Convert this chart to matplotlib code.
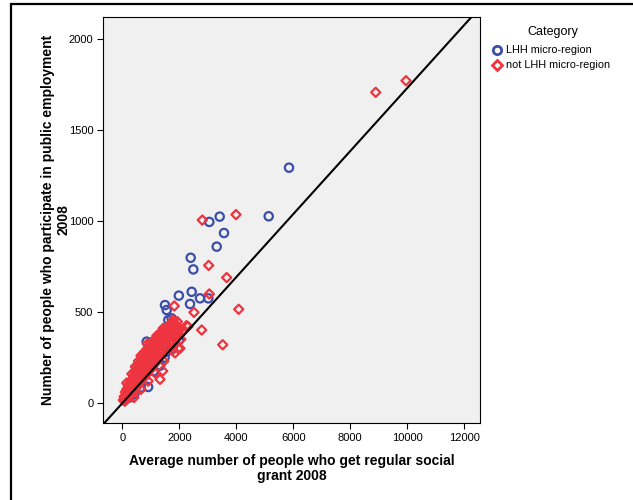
import matplotlib
matplotlib.use("Agg")
import matplotlib.pyplot as plt
from matplotlib.lines import Line2D
from matplotlib.patches import Rectangle

plt.rcParams['font.family'] = ['Liberation Sans', 'DejaVu Sans']

# LHH micro-regions (blue circles): (social grant, public employment)
lhh_pts = [(5850, 1293), (5137, 1026), (3415, 1024), (3050, 995), (3566, 934),
           (3310, 859), (2396, 798), (2489, 734), (1980, 590), (2431, 611),
           (2723, 575), (3015, 575), (2372, 544), (1493, 538), (1553, 511),
           (1610, 456), (1669, 419), (1610, 392), (1903, 364), (1201, 355),
           (850, 337), (1258, 364), (1728, 465), (900, 88), (1552, 282),
           (1100, 175), (1320, 205), (640, 85), (420, 50), (1480, 250),
           (1760, 300), (1980, 345), (250, 30), (1050, 230), (1380, 290)]

# other micro-regions (red diamonds), the scattered ones
other_outer = [(9961, 1771), (8896, 1707), (3988, 1035), (2804, 1005), (3028, 756),
               (3660, 689), (3050, 599), (2512, 498), (4083, 515), (2782, 401),
               (3520, 320), (1820, 533), (1785, 456), (1926, 447), (2020, 405),
               (2020, 300), (1961, 300), (1845, 275), (1412, 176), (1318, 130),
               (871, 324)]

# other micro-regions, the dense group near the origin
other_core = [(30, 15), (60, 35), (85, 10), (100, 60), (125, 28), (150, 75),
              (165, 22), (185, 48), (200, 95), (220, 33), (245, 62), (260, 110),
              (280, 42), (305, 80), (320, 125), (345, 55), (360, 95), (385, 150),
              (400, 65), (420, 110), (445, 170), (465, 78), (480, 130), (505, 190),
              (520, 92), (540, 145), (565, 205), (585, 108), (600, 160), (620, 220),
              (645, 118), (660, 175), (680, 235), (705, 132), (720, 190), (745, 250),
              (760, 140), (780, 205), (805, 265), (820, 155), (845, 220), (860, 280),
              (885, 165), (900, 235), (925, 295), (940, 178), (965, 250), (980, 305),
              (1005, 188), (1020, 262), (1045, 315), (1060, 200), (1085, 275),
              (1100, 330), (1125, 215), (1140, 290), (1165, 340), (1180, 225),
              (1205, 300), (1220, 355), (1245, 240), (1260, 315), (1285, 365),
              (1300, 255), (1325, 330), (1340, 380), (1365, 270), (1380, 340),
              (1405, 390), (1420, 285), (1445, 355), (1460, 400), (1490, 300),
              (1505, 365), (1530, 410), (1555, 315), (1580, 375), (1610, 420),
              (1640, 330), (1665, 385), (1690, 430), (1720, 345), (1750, 395),
              (1790, 440), (1830, 360), (1870, 405), (1910, 425), (1960, 380),
              (330, 160), (560, 230), (770, 280), (990, 330), (1210, 370),
              (1430, 410), (1150, 250), (700, 260), (480, 150),
              (150, 110), (450, 200), (650, 260), (880, 300), (1100, 345),
              (1320, 385), (1580, 420), (1800, 430), (400, 30), (650, 75),
              (900, 120), (1150, 165), (1450, 230), (1750, 290), (2050, 350),
              (2100, 390), (2150, 400), (2250, 425), (2300, 420), (1950, 410),
              (50, 20), (110, 40), (170, 55), (230, 80), (290, 95), (350, 120),
              (410, 135), (470, 160), (530, 175), (590, 195), (650, 210),
              (710, 225), (770, 240), (830, 255), (890, 270), (950, 285),
              (1010, 300), (1070, 310), (1130, 320), (1190, 335), (1250, 345),
              (1310, 355), (1370, 365), (1430, 375), (1490, 385), (1550, 395),
              (1620, 400), (1700, 410), (1780, 415), (1860, 420),
              (250, 70), (370, 100), (490, 115), (610, 140), (730, 160),
              (850, 185), (970, 215), (1090, 240), (1210, 265), (1330, 290),
              (1450, 320), (1570, 345), (1690, 365), (1810, 385), (1930, 395)]

x_ticks = [0, 2000, 4000, 6000, 8000, 10000, 12000]
y_ticks = [0, 500, 1000, 1500, 2000]
ref_slope = 0.173

blue = '#3c4fa8'
red = '#ee343e'

lhh_x, lhh_y = zip(*lhh_pts)
other_x, other_y = zip(*(other_outer + other_core))

fig = plt.figure(figsize=(6.33, 5), dpi=100)
ax = fig.add_axes([0.1627, 0.154, 0.5956, 0.812])
ax.set_facecolor('#f0f0f0')

ax.scatter(lhh_x, lhh_y, s=36, marker='o', facecolors='none',
           edgecolors=blue, linewidths=1.6, zorder=3)
ax.scatter(other_x, other_y, s=22, marker='D', facecolors='none',
           edgecolors=red, linewidths=1.6, zorder=3)

# reference line through the origin
ax.plot([-1000, 13000], [-1000 * ref_slope, 13000 * ref_slope],
        color='black', lw=1.5, zorder=4)

ax.set_xlim(-685, 12560)
ax.set_ylim(-110, 2121)
ax.set_xticks(x_ticks)
ax.set_yticks(y_ticks)
ax.tick_params(labelsize=8, length=4, width=0.8, direction='out', pad=3)
for sp in ax.spines.values():
    sp.set_linewidth(0.8)

ax.set_xlabel('Average number of people who get regular social\ngrant 2008',
              fontsize=10, fontweight='bold', labelpad=8, linespacing=1.15)
ax.set_ylabel('Number of people who participate in public employment\n2008',
              fontsize=10, fontweight='bold', labelpad=-1.5, linespacing=1.15)

# legend, placed by hand to the right of the plot
fig.text(553 / 633, 1 - 32 / 500, 'Category', fontsize=9, ha='center', va='center')
legend_items = [('LHH micro-region', 'o', blue, 6.0, 50),
                ('not LHH micro-region', 'D', red, 5.2, 65)]
for label, mk, col, size, ypx in legend_items:
    yf = 1 - ypx / 500
    fig.add_artist(Line2D([497 / 633], [yf], transform=fig.transFigure, ls='none',
                          marker=mk, ms=size, mfc='none', mec=col, mew=2.0))
    fig.text(506 / 633, yf, label, fontsize=7.8, ha='left', va='center')

# outer frame
fig.add_artist(Rectangle((11 / 633, -0.1), 1.2, 1.1 - 4 / 500, transform=fig.transFigure,
                         fill=False, edgecolor='black', lw=1.6))

fig.savefig('out.png', dpi=100)
